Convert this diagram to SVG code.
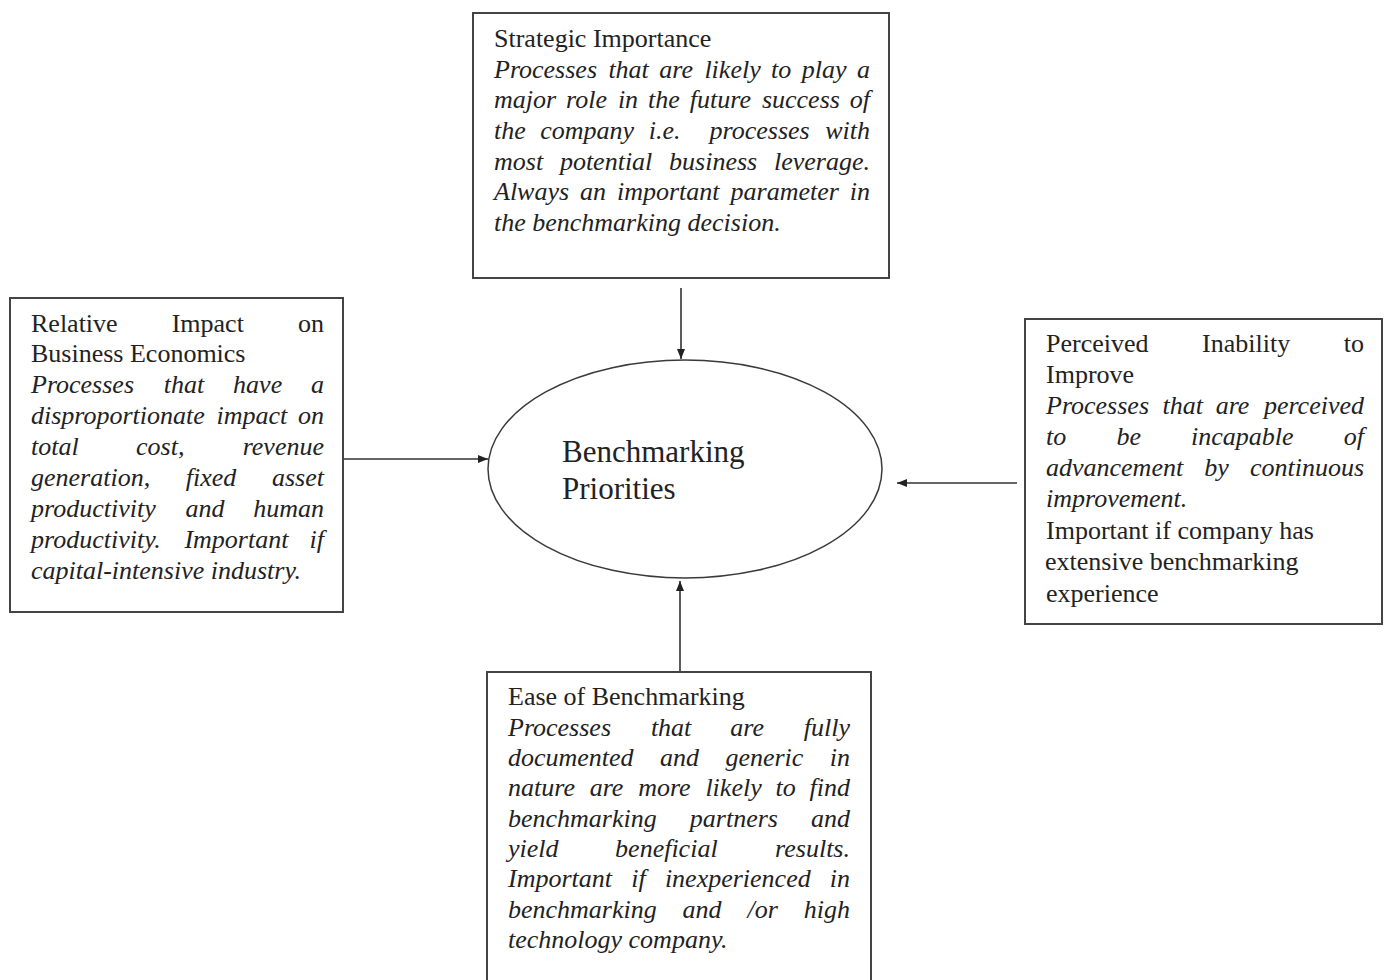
<svg xmlns="http://www.w3.org/2000/svg" width="1389" height="980" viewBox="0 0 1389 980">
  <style>
    .box { fill: #fff; stroke: #444; stroke-width: 2; }
    .hub { fill: #fff; stroke: #3a3a3a; stroke-width: 1.5; }
    .t { font-family: "Liberation Serif", "Times New Roman", serif; font-size: 26px; fill: #222; }
    .i { font-style: italic; }
    .e { text-anchor: end; }
    .big { font-family: "Liberation Serif", "Times New Roman", serif; font-size: 31px; fill: #222; }
    .link { stroke: #333; stroke-width: 1.6; fill: none; marker-end: url(#head); }
  </style>
  <defs>
    <marker id="head" viewBox="0 0 10 8" refX="10" refY="4" markerWidth="10" markerHeight="8" markerUnits="userSpaceOnUse" orient="auto">
      <path d="M0,0 L10,4 L0,8 z" fill="#222"/>
    </marker>
  </defs>
  <rect width="1389" height="980" fill="#fff"/>

  <!-- connectors -->
  <g id="connectors">
    <line class="link" x1="681" y1="288" x2="681" y2="359"/>
    <line class="link" x1="344" y1="459" x2="488" y2="459"/>
    <line class="link" x1="1017" y1="483" x2="897" y2="483"/>
    <line class="link" x1="680" y1="672" x2="680" y2="581"/>
  </g>

  <!-- central hub -->
  <g id="benchmarking-priorities">
    <ellipse class="hub" cx="685" cy="469" rx="197" ry="109"/>
    <text class="big" x="562" y="462">Benchmarking</text>
    <text class="big" x="562" y="499">Priorities</text>
  </g>

  <!-- top: strategic importance -->
  <g id="strategic-importance">
    <rect class="box" x="473" y="13" width="416" height="265"/>
    <text class="t" x="494" y="47">Strategic Importance</text>
    <text class="t i" y="78"><tspan x="494">Processes</tspan><tspan x="608.4">that</tspan><tspan x="659.3">are</tspan><tspan x="704.4">likely</tspan><tspan x="771.1">to</tspan><tspan x="801.8">play</tspan></text>
    <text class="t i e" x="870" y="78">a</text>
    <text class="t i" y="108"><tspan x="494">major</tspan><tspan x="566.1">role</tspan><tspan x="617.9">in</tspan><tspan x="648.1">the</tspan><tspan x="689.8">future</tspan><tspan x="761.9">success</tspan></text>
    <text class="t i e" x="870" y="108">of</text>
    <text class="t i" y="139"><tspan x="494">the</tspan><tspan x="540.3">company</tspan><tspan x="648.7">i.e.</tspan><tspan x="709.6">processes</tspan></text>
    <text class="t i e" x="870" y="139">with</text>
    <text class="t i" y="170"><tspan x="494">most</tspan><tspan x="559.9">potential</tspan><tspan x="669.1">business</tspan></text>
    <text class="t i e" x="870" y="170">leverage.</text>
    <text class="t i" y="200"><tspan x="494">Always</tspan><tspan x="580.1">an</tspan><tspan x="617">important</tspan><tspan x="730.6">parameter</tspan></text>
    <text class="t i e" x="870" y="200">in</text>
    <text class="t i" x="494" y="231">the benchmarking decision.</text>
  </g>

  <!-- left: relative impact on business economics -->
  <g id="relative-impact">
    <rect class="box" x="10" y="298" width="333" height="314"/>
    <text class="t" y="332"><tspan x="31">Relative</tspan><tspan x="171.7">Impact</tspan></text>
    <text class="t e" x="324" y="332">on</text>
    <text class="t" x="31" y="362">Business Economics</text>
    <text class="t i" y="393"><tspan x="31">Processes</tspan><tspan x="163.8">that</tspan><tspan x="233.1">have</tspan></text>
    <text class="t i e" x="324" y="393">a</text>
    <text class="t i" y="424"><tspan x="31">disproportionate</tspan><tspan x="216.5">impact</tspan></text>
    <text class="t i e" x="324" y="424">on</text>
    <text class="t i" y="455"><tspan x="31">total</tspan><tspan x="136">cost,</tspan></text>
    <text class="t i e" x="324" y="455">revenue</text>
    <text class="t i" y="486"><tspan x="31">generation,</tspan><tspan x="185.8">fixed</tspan></text>
    <text class="t i e" x="324" y="486">asset</text>
    <text class="t i" y="517"><tspan x="31">productivity</tspan><tspan x="185.5">and</tspan></text>
    <text class="t i e" x="324" y="517">human</text>
    <text class="t i" y="548"><tspan x="31">productivity.</tspan><tspan x="184.4">Important</tspan></text>
    <text class="t i e" x="324" y="548">if</text>
    <text class="t i" x="31" y="579">capital-intensive industry.</text>
  </g>

  <!-- right: perceived inability to improve -->
  <g id="perceived-inability">
    <rect class="box" x="1025" y="319" width="357" height="305"/>
    <text class="t" y="352"><tspan x="1046">Perceived</tspan><tspan x="1202.1">Inability</tspan></text>
    <text class="t e" x="1364" y="352">to</text>
    <text class="t" x="1046" y="383">Improve</text>
    <text class="t i" y="414"><tspan x="1046">Processes</tspan><tspan x="1162.6">that</tspan><tspan x="1215.7">are</tspan></text>
    <text class="t i e" x="1364" y="414">perceived</text>
    <text class="t i" y="445"><tspan x="1046">to</tspan><tspan x="1116.4">be</tspan><tspan x="1191.1">incapable</tspan></text>
    <text class="t i e" x="1364" y="445">of</text>
    <text class="t i" y="476"><tspan x="1046">advancement</tspan><tspan x="1204.3">by</tspan></text>
    <text class="t i e" x="1364" y="476">continuous</text>
    <text class="t i" x="1046" y="507">improvement.</text>
    <text class="t" x="1046" y="539">Important if company has</text>
    <text class="t" x="1045" y="570">extensive benchmarking</text>
    <text class="t" x="1046" y="602">experience</text>
  </g>

  <!-- bottom: ease of benchmarking -->
  <g id="ease-of-benchmarking">
    <rect class="box" x="487" y="672" width="384" height="320"/>
    <text class="t" x="508" y="705">Ease of Benchmarking</text>
    <text class="t i" y="736"><tspan x="508">Processes</tspan><tspan x="650.9">that</tspan><tspan x="730.3">are</tspan></text>
    <text class="t i e" x="850" y="736">fully</text>
    <text class="t i" y="766"><tspan x="508">documented</tspan><tspan x="660">and</tspan><tspan x="725.4">generic</tspan></text>
    <text class="t i e" x="850" y="766">in</text>
    <text class="t i" y="796"><tspan x="508">nature</tspan><tspan x="589.7">are</tspan><tspan x="638.2">more</tspan><tspan x="705.4">likely</tspan><tspan x="775.5">to</tspan></text>
    <text class="t i e" x="850" y="796">find</text>
    <text class="t i" y="827"><tspan x="508">benchmarking</tspan><tspan x="689.8">partners</tspan></text>
    <text class="t i e" x="850" y="827">and</text>
    <text class="t i" y="857"><tspan x="508">yield</tspan><tspan x="615.1">beneficial</tspan></text>
    <text class="t i e" x="850" y="857">results.</text>
    <text class="t i" y="887"><tspan x="508">Important</tspan><tspan x="631.2">if</tspan><tspan x="664.9">inexperienced</tspan></text>
    <text class="t i e" x="850" y="887">in</text>
    <text class="t i" y="918"><tspan x="508">benchmarking</tspan><tspan x="682.6">and</tspan><tspan x="747.5">/or</tspan></text>
    <text class="t i e" x="850" y="918">high</text>
    <text class="t i" x="508" y="948">technology company.</text>
  </g>
</svg>
